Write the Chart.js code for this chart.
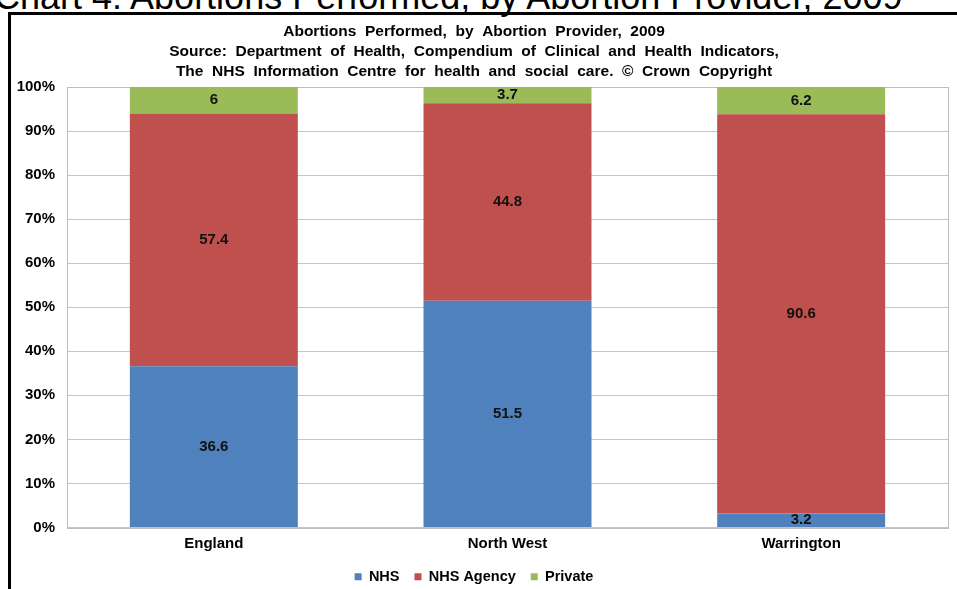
<!DOCTYPE html>
<html>
<head>
<meta charset="utf-8">
<script src="https://cdn.jsdelivr.net/npm/chart.js@4"></script>
<style>
  html, body { margin: 0; padding: 0; background: #fff; overflow: hidden; }
  body { width: 957px; height: 589px; position: relative; }
  #heading {
    position: absolute; left: -6px; top: -21px;
    font: 36px/36px "Liberation Sans", Arial, sans-serif;
    color: #000; white-space: nowrap;
  }
  #frame {
    position: absolute; left: 8px; top: 12px; width: 1100px; height: 800px;
    border: 3px solid #000; box-sizing: border-box;
  }
  #wrap { position: absolute; left: 0; top: 0; width: 957px; height: 589px; }
</style>
</head>
<body>
<div id="heading">Chart 4: Abortions Performed, by Abortion Provider, 2009</div>
<div id="frame"></div>
<div id="wrap"><canvas id="chart"></canvas></div>
<script>
// ============ DATA ============

const regions = ['England', 'North West', 'Warrington'];
const nhs = [36.6, 51.5, 3.2];
const nhsAgency = [57.4, 44.8, 90.6];
const privateProv = [6, 3.7, 6.2];
const yTicks = [0, 10, 20, 30, 40, 50, 60, 70, 80, 90, 100];

const titleLines = [
  'Abortions  Performed,  by  Abortion  Provider,  2009',
  'Source:  Department  of  Health,  Compendium  of  Clinical  and  Health  Indicators,',
  'The  NHS  Information  Centre  for  health  and  social  care.  \u00A9  Crown  Copyright'
];

const FONT = '"Liberation Sans", Arial, sans-serif';

// ============ PLUGINS ============

// values written in the middle of each stacked segment
const segmentLabels = {
  id: 'segmentLabels',
  afterDatasetsDraw(chart) {
    const ctx = chart.ctx;
    ctx.save();
    ctx.font = 'bold 15px ' + FONT;
    ctx.fillStyle = '#111';
    ctx.textAlign = 'center';
    ctx.textBaseline = 'middle';
    chart.data.datasets.forEach((ds, i) => {
      chart.getDatasetMeta(i).data.forEach((bar, j) => {
        const mid = (bar.y + bar.base) / 2;
        ctx.fillText(String(ds.data[j]), bar.x, mid);
      });
    });
    ctx.restore();
  }
};

// light grey box round the plot area
const plotBorder = {
  id: 'plotBorder',
  beforeDatasetsDraw(chart) {
    const a = chart.chartArea;
    const ctx = chart.ctx;
    ctx.save();
    ctx.strokeStyle = '#bdbdbd';
    ctx.lineWidth = 1;
    ctx.strokeRect(Math.round(a.left) + 0.5, Math.round(a.top) + 0.5,
      Math.round(a.right - a.left), Math.round(a.bottom - a.top));
    ctx.restore();
  }
};

// ============ CHART ============

new Chart(document.getElementById('chart'), {
  type: 'bar',
  data: {
    labels: regions,
    datasets: [
      { label: 'NHS', data: nhs, backgroundColor: '#4F81BD' },
      { label: 'NHS Agency', data: nhsAgency, backgroundColor: '#C0504D' },
      { label: 'Private', data: privateProv, backgroundColor: '#9BBB59' }
    ]
  },
  options: {
    responsive: true,
    maintainAspectRatio: false,
    animation: false,
    layout: { padding: { top: 0, right: 9, bottom: -5, left: 0 } },
    datasets: { bar: { barPercentage: 0.572, categoryPercentage: 1, borderWidth: 0 } },
    plugins: {
      title: {
        display: true,
        text: titleLines,
        color: '#000',
        font: { family: FONT, size: 15.5, weight: 'bold', lineHeight: 20 / 15.5 },
        padding: { top: 22, bottom: 5 }
      },
      legend: {
        position: 'bottom',
        labels: {
          color: '#000',
          font: { family: FONT, size: 14.5, weight: 'bold' },
          boxWidth: 7,
          boxHeight: 7,
          padding: 15
        }
      },
      tooltip: { enabled: false }
    },
    scales: {
      x: {
        stacked: true,
        grid: { display: false, drawTicks: false },
        border: { display: false },
        ticks: { color: '#000', font: { family: FONT, size: 15, weight: 'bold' }, padding: 7 },
        afterFit: s => { s.height = 27; }
      },
      y: {
        stacked: true,
        min: 0,
        max: 100,
        afterBuildTicks: s => { s.ticks = yTicks.map(v => ({ value: v })); },
        grid: { color: '#c4c4c4', drawTicks: false },
        border: { color: '#c4c4c4' },
        ticks: {
          color: '#000',
          font: { family: FONT, size: 15, weight: 'bold' },
          padding: 12,
          callback: v => v + '%'
        },
        afterFit: s => { s.width = 67; }
      }
    }
  },
  plugins: [plotBorder, segmentLabels]
});
</script>
</body>
</html>
